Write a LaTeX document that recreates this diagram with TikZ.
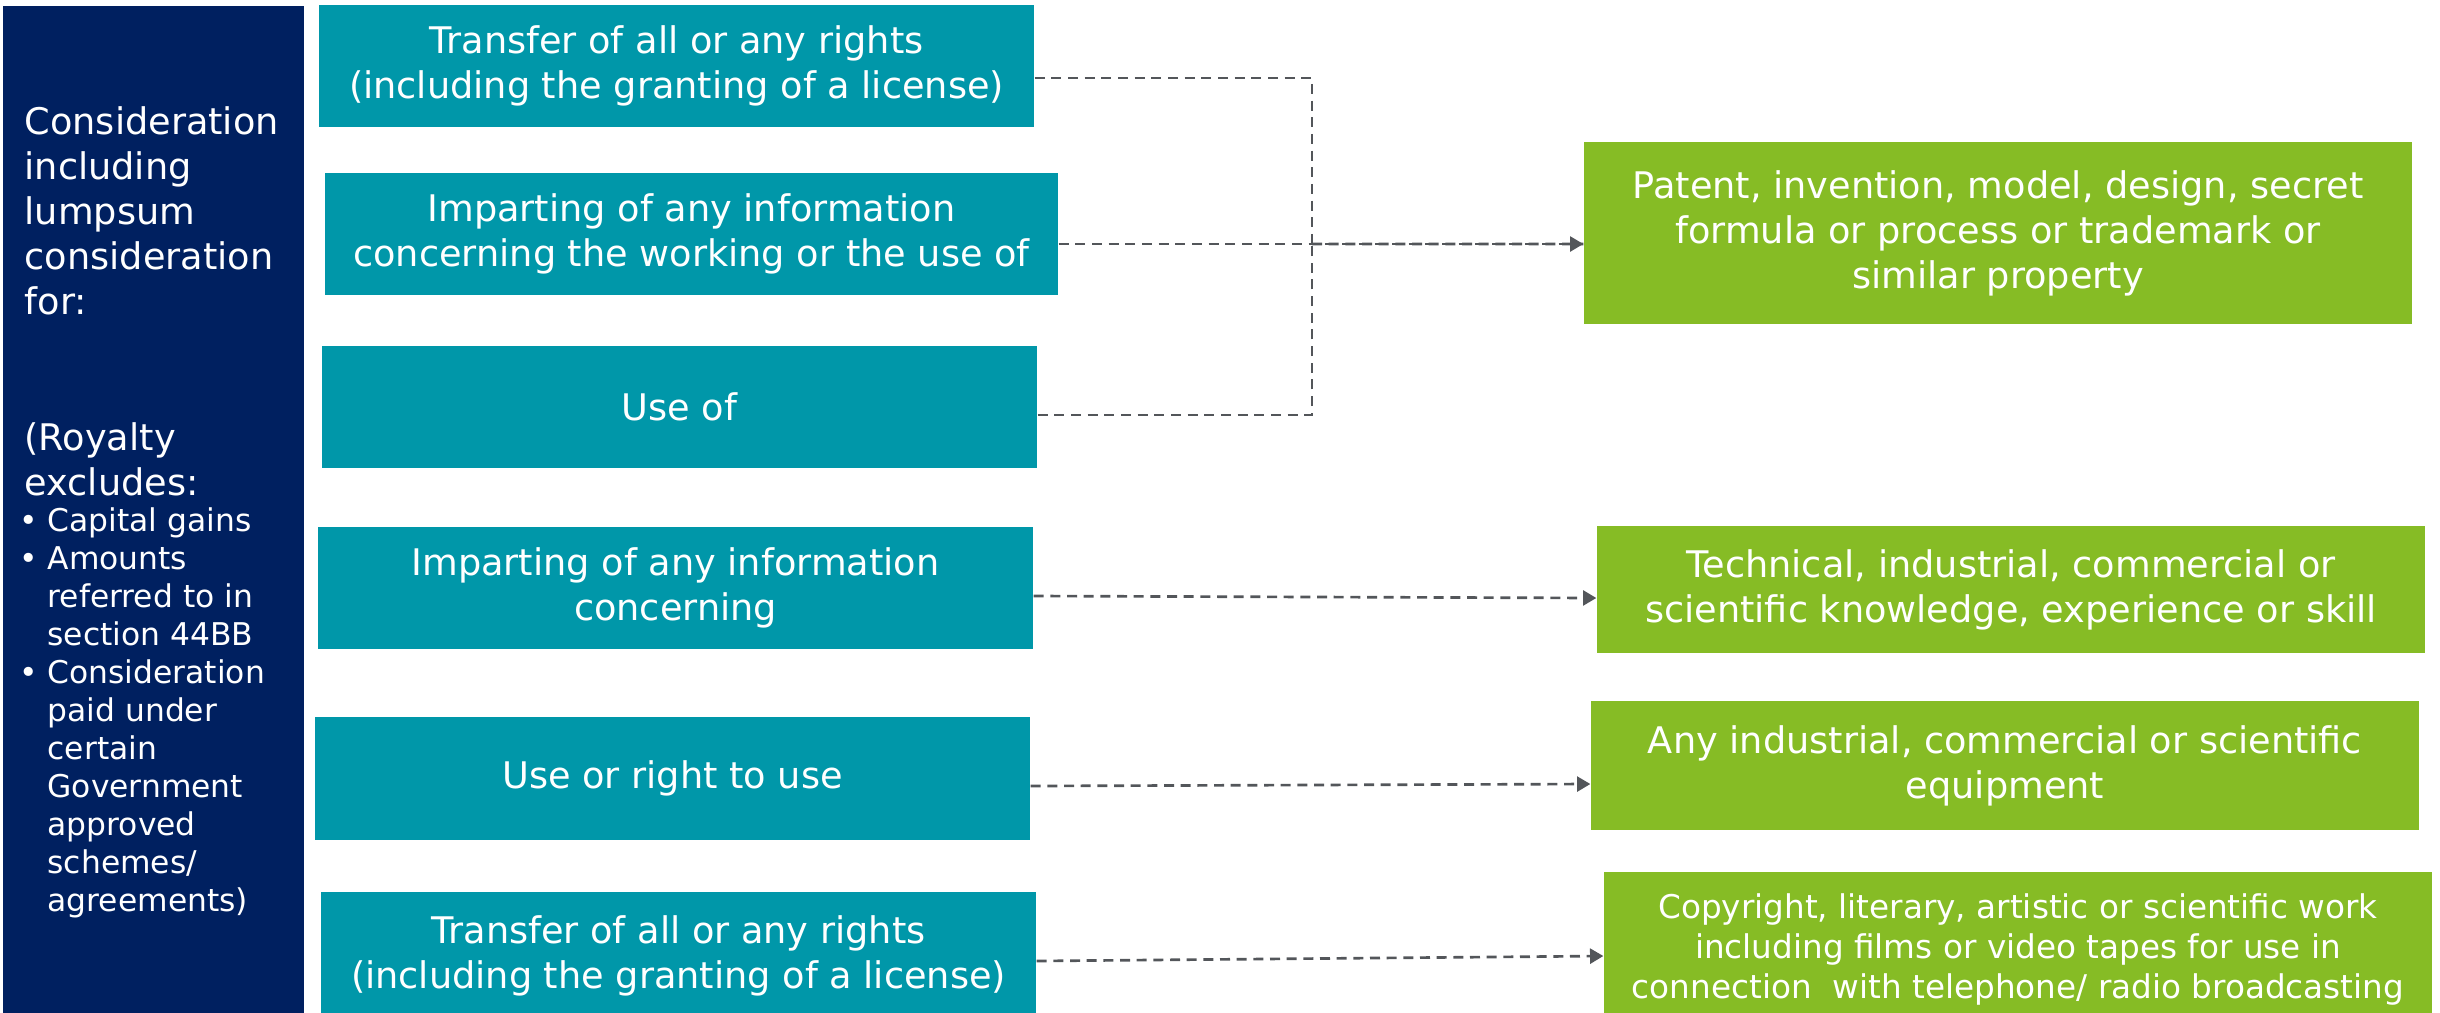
\documentclass[tikz,border=0pt]{standalone}
\usepackage{fontspec}
\setmainfont{DejaVu Sans}
\usetikzlibrary{arrows.meta}
\definecolor{navy}{HTML}{002060}
\definecolor{sarcelle}{HTML}{0097A9}
\definecolor{vert}{HTML}{86BC25}
\definecolor{trait}{HTML}{53565A}
\begin{document}
\begin{tikzpicture}[x=0.3pt,y=-0.3pt,>={Triangle[width=4.5pt,length=4pt]},
	leftbox/.style={fill=sarcelle,text=white,align=center,inner sep=0pt,minimum width=214.5pt,minimum height=36.6pt,font=\fontsize{11}{13.5}\selectfont},
	rightbox/.style={fill=vert,text=white,align=center,inner sep=0pt,minimum width=248.4pt,font=\fontsize{11}{13.5}\selectfont},
	link/.style={trait,line width=0.8pt,dash pattern=on 3pt off 2pt}]
	\useasboundingbox (0,0) rectangle (2440,1012);
	% le cadre de gauche
	\node[fill=navy,anchor=north west,inner sep=0pt,minimum width=90.3pt,minimum height=302.1pt] (cons) at (2,5) {};
	\node[text=white,align=left,anchor=north west,inner sep=0pt,font=\fontsize{11}{13.5}\selectfont] (consA) at (24,106) {Consideration\\including\\lumpsum\\consideration\\for:\\[27.4pt](Royalty\\excludes:};
	\node[text=white,align=left,anchor=north west,inner sep=0pt,font=\fontsize{9.4}{11.4}\selectfont] (consB) at (47,507) {\llap{\textbullet\hspace{3pt}}Capital gains\\\llap{\textbullet\hspace{3pt}}Amounts\\referred to in\\section 44BB\\\llap{\textbullet\hspace{3pt}}Consideration\\paid under\\certain\\Government\\approved\\schemes/\\agreements)};
	% les actes
	\node[leftbox] (T1) at (676.5,66) {Transfer of all or any rights\\(including the granting of a license)};
	\node[leftbox,minimum width=219.9pt] (T2) at (691.5,234) {Imparting of any information\\concerning the working or the use of};
	\node[leftbox] (T3) at (679.5,407) {Use of};
	\node[leftbox] (T4) at (675.5,588) {Imparting of any information\\concerning};
	\node[leftbox,minimum height=36.9pt] (T5) at (672.5,778.5) {Use or right to use};
	\node[leftbox,minimum height=38.4pt] (T6) at (678.5,956) {Transfer of all or any rights\\(including the granting of a license)};
	% les objets
	\node[rightbox,minimum height=54.6pt] (G1) at (1998,233) {Patent, invention, model, design, secret\\formula or process or trademark or\\similar property};
	\node[rightbox,minimum height=38.1pt] (G2) at (2011,589.5) {Technical, industrial, commercial or\\scientific knowledge, experience or skill};
	\node[rightbox,minimum height=38.7pt] (G3) at (2005,765.5) {Any industrial, commercial or scientific\\equipment};
	\node[rightbox,minimum height=46.2pt,font=\fontsize{9.8}{12}\selectfont] (G4) at (2018,949) {Copyright, literary, artistic or scientific work\\including films or video tapes for use in\\connection\ \ with telephone/ radio broadcasting};
	% les liens
	\coordinate (J) at (1312,244);
	\draw[link] ([yshift=-3.6pt]T1.east) -| (J);
	\draw[link] ([yshift=-2.4pt]T3.east) -| (J);
	\draw[link] (J) -- ([yshift=-3.3pt]G1.west);
	\draw[link,->] ([yshift=-3pt]T2.east) -- ([yshift=-3.3pt]G1.west);
	\draw[link,->] ([yshift=-2.4pt]T4.east) -- ([yshift=-2.55pt]G2.west);
	\draw[link,->] ([yshift=-2.25pt]T5.east) -- ([yshift=-5.55pt]G3.west);
	\draw[link,->] ([yshift=-1.5pt]T6.east) -- ([yshift=-2.1pt]G4.west);
\end{tikzpicture}
\end{document}
